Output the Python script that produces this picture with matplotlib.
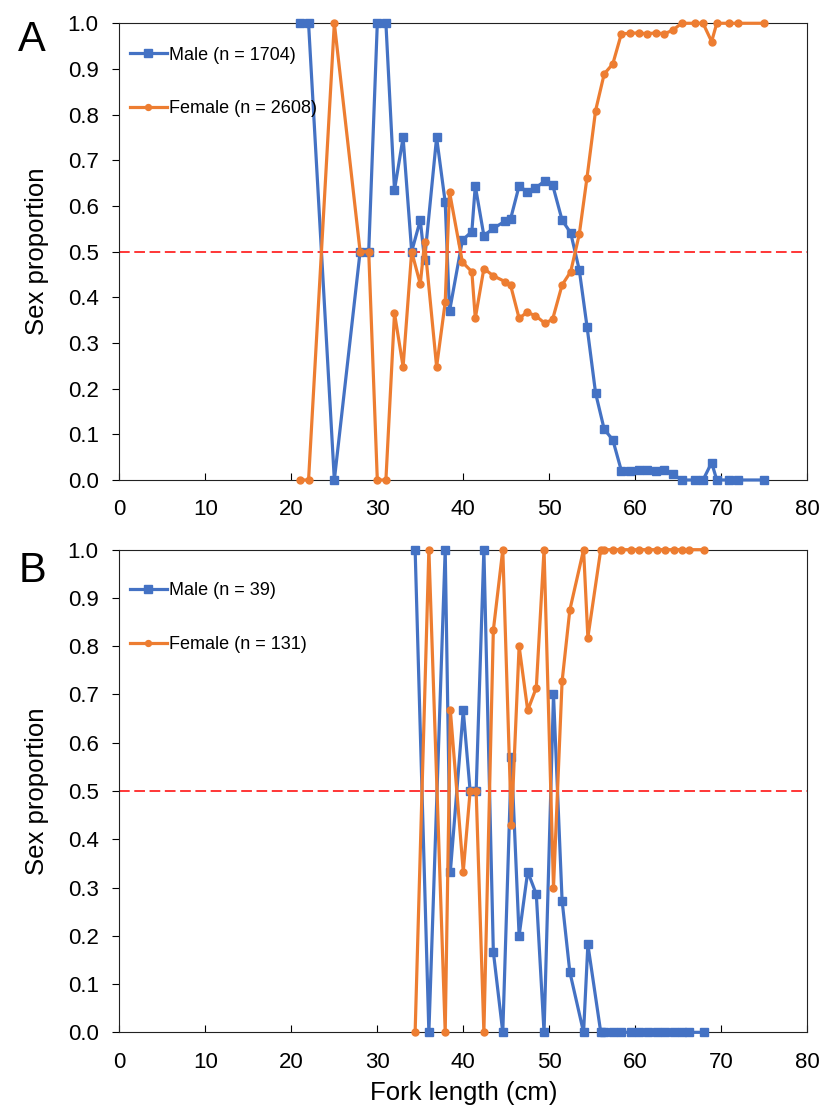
import matplotlib
matplotlib.use('Agg')
import matplotlib.pyplot as plt
from matplotlib.ticker import FormatStrFormatter

plt.rcParams['font.family'] = ['Liberation Sans', 'DejaVu Sans']

# ---- Panel A data ----
length_a = [21, 22, 25, 28, 29, 30, 31, 32, 33, 34, 35, 35.5, 36.9, 37.9, 38.4,
            39.9, 41, 41.4, 42.4, 43.5, 44.9, 45.5, 46.5, 47.4, 48.4, 49.5, 50.4,
            51.5, 52.5, 53.5, 54.4, 55.4, 56.4, 57.4, 58.4, 59.4, 60.4, 61.4, 62.4,
            63.4, 64.4, 65.4, 67, 67.9, 68.9, 69.5, 70.9, 72, 75]
male_a = [1, 1, 0, 0.5, 0.5, 1, 1, 0.635, 0.75, 0.5, 0.569, 0.482, 0.75, 0.608, 0.369,
          0.525, 0.544, 0.644, 0.535, 0.551, 0.567, 0.571, 0.644, 0.631, 0.639, 0.655, 0.646,
          0.569, 0.541, 0.46, 0.336, 0.19, 0.111, 0.088, 0.02, 0.02, 0.021, 0.021, 0.02,
          0.021, 0.013, 0, 0, 0, 0.038, 0, 0, 0, 0]
female_a = [0, 0, 1, 0.5, 0.5, 0, 0, 0.365, 0.248, 0.5, 0.429, 0.52, 0.248, 0.389, 0.631,
            0.477, 0.456, 0.354, 0.463, 0.447, 0.434, 0.427, 0.354, 0.367, 0.36, 0.343, 0.352,
            0.427, 0.456, 0.538, 0.662, 0.809, 0.889, 0.911, 0.977, 0.978, 0.979, 0.977, 0.979,
            0.977, 0.985, 1, 1, 1, 0.96, 1, 1, 1, 1]

# ---- Panel B data ----
length_b = [34.4, 36.0, 37.9, 38.5, 40.0, 40.8, 41.5, 42.4, 43.5, 44.6, 45.6, 46.5,
            47.5, 48.5, 49.4, 50.5, 51.5, 52.4, 54.0, 54.5, 56.0, 56.4, 57.4, 58.4,
            59.5, 60.5, 61.5, 62.5, 63.5, 64.5, 65.5, 66.3, 68.0]
male_b = [1, 0, 1, 0.333, 0.667, 0.5, 0.5, 1, 0.167, 0, 0.571, 0.2,
          0.333, 0.286, 0, 0.7, 0.273, 0.125, 0, 0.182, 0, 0, 0, 0,
          0, 0, 0, 0, 0, 0, 0, 0, 0]
female_b = [0, 1, 0, 0.667, 0.333, 0.5, 0.5, 0, 0.833, 1, 0.429, 0.8,
            0.667, 0.714, 1, 0.3, 0.727, 0.875, 1, 0.818, 1, 1, 1, 1,
            1, 1, 1, 1, 1, 1, 1, 1, 1]

x_ticks = [0, 10, 20, 30, 40, 50, 60, 70, 80]
y_ticks = [0.0, 0.1, 0.2, 0.3, 0.4, 0.5, 0.6, 0.7, 0.8, 0.9, 1.0]
panel_labels = ['A', 'B']
legend_a = ['Male (n = 1704)', 'Female (n = 2608)']
legend_b = ['Male (n = 39)', 'Female (n = 131)']
y_label = 'Sex proportion'
x_label = 'Fork length (cm)'

BLUE = '#4472C4'
ORANGE = '#ED7D31'

fig = plt.figure(figsize=(8.24, 11.08), dpi=100)
axA = fig.add_axes([0.1450, 0.5668, 0.8344, 0.4122])
axB = fig.add_axes([0.1450, 0.0683, 0.8344, 0.4356])

panels = [
    (axA, length_a, male_a, female_a, legend_a, 0.949, 0.0),
    (axB, length_b, male_b, female_b, legend_b, 0.932, -0.004),
]

for i, (ax, xs, m, f, labs, legy, ldy) in enumerate(panels):
    ax.axhline(0.5, color='#FF0000', ls=(0, (7, 3)), lw=1.1, zorder=2)
    ax.plot(xs, m, color=BLUE, marker='s', ms=6, lw=2.3, clip_on=False,
            label=labs[0], zorder=3)
    ax.plot(xs, f, color=ORANGE, marker='o', ms=5, lw=2.3, clip_on=False,
            label=labs[1], zorder=4)
    ax.set_xlim(0, 80)
    ax.set_ylim(0, 1)
    ax.set_xticks(x_ticks)
    ax.set_yticks(y_ticks)
    ax.yaxis.set_major_formatter(FormatStrFormatter('%.1f'))
    ax.tick_params(axis='x', direction='in', length=5, width=0.8, pad=14,
                   labelsize=16, colors='black')
    ax.tick_params(axis='y', direction='out', length=5, width=0.8, pad=10,
                   labelsize=16, colors='black')
    for s in ax.spines.values():
        s.set_linewidth(0.8)
        s.set_color('#222222')
    ax.set_ylabel(y_label, fontsize=18.5)
    ax.yaxis.set_label_coords(-0.103, 0.5)
    ax.legend(loc='upper left', bbox_to_anchor=(0.015, legy), frameon=False,
              fontsize=13, handlelength=2.05, handletextpad=0.1,
              labelspacing=2.02, borderpad=0, borderaxespad=0, numpoints=1,
              markerscale=0.85)
    fig.text(0.039, ax.get_position().y1 + 0.003 + ldy, panel_labels[i], fontsize=30,
             ha='center', va='top')

axB.set_xlabel(x_label, fontsize=18.5, labelpad=6)

fig.savefig('out.png', dpi=100)
